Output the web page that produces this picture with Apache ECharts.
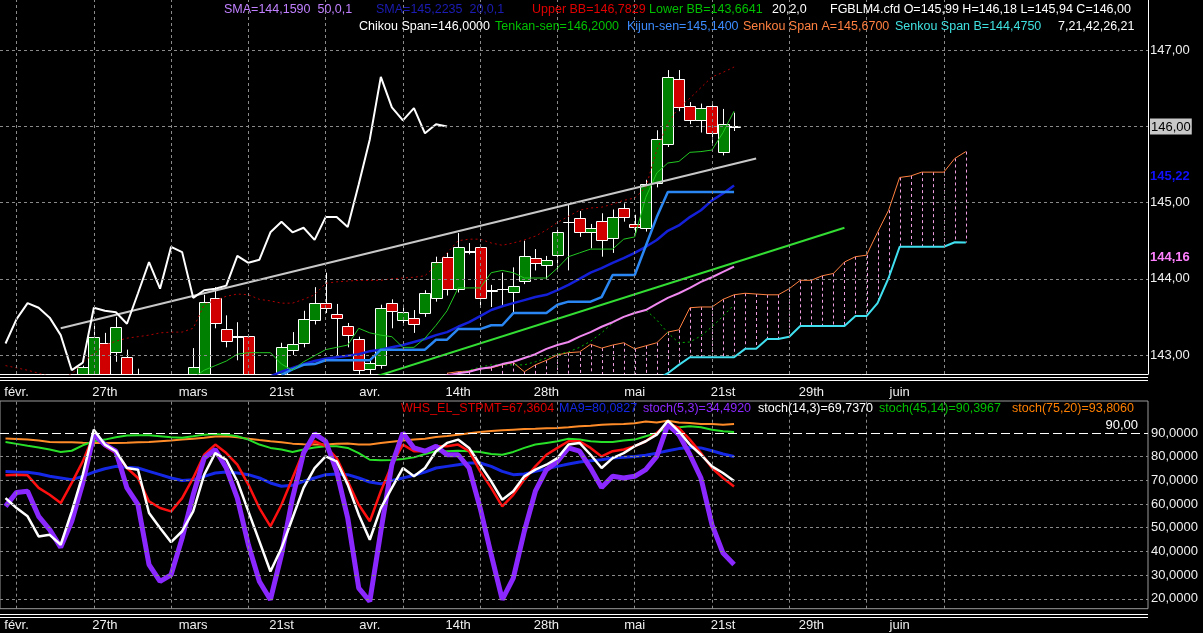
<!DOCTYPE html>
<html><head><meta charset="utf-8">
<script src="https://cdn.jsdelivr.net/npm/echarts@6/dist/echarts.min.js"></script>
<style>html,body{margin:0;padding:0;background:#000;}#c{width:1203px;height:633px;}</style>
</head><body><div id="c"></div>
<script>
// ---------- axis / tick data ----------
const CAT_COUNT = 104;          // category slots on the time axis
const IDX0 = -1;                // bar index of the first slot
const X_TICK_LABELS = ['févr.','27th','mars','21st','avr.','14th','28th','mai','21st','29th','juin'];
const X_LABEL_EVERY = 8;
const X_GRID_EVERY = 7;
const X_GRID_LAST = 84;
const PRICE_TICKS = [143,144,145,146,147];
const LAST_PRICE = 146;
const OSC_TICKS = [20,30,40,50,60,70,80,90];
const OSC_LEVEL = 90;

// ---------- candles (bar index 0..65) ----------
const OPEN = [142.50,142.62,142.60,142.46,142.44,142.36,142.58,142.70,143.16,143.04,
  142.97,142.66,142.50,142.32,142.26,142.42,142.62,142.72,143.75,143.34,
  143.25,143.25,142.62,142.44,142.55,143.07,143.16,143.46,143.68,143.54,
  143.38,143.21,142.82,142.87,143.68,143.46,143.49,143.55,143.75,144.29,
  143.87,144.36,144.42,143.84,143.86,143.83,143.97,144.27,144.18,144.31,
  144.74,144.80,144.61,144.76,144.53,144.93,144.72,144.67,145.26,145.77,
  146.62,146.27,146.08,146.27,145.66,145.99];
const CLOSE = [142.62,142.60,142.46,142.44,142.36,142.58,142.84,143.24,142.70,143.37,
  142.62,142.50,142.32,142.26,142.42,142.62,142.84,143.70,143.42,143.18,
  143.24,142.62,142.44,142.52,143.10,143.15,143.47,143.68,143.62,143.49,
  143.26,142.80,142.90,143.62,143.58,143.56,143.41,143.81,144.22,143.87,
  144.42,144.35,143.75,143.85,143.87,143.91,144.30,144.21,144.25,144.61,
  144.75,144.61,144.67,144.51,144.81,144.81,144.68,145.24,145.83,146.65,
  146.25,146.08,146.24,145.91,146.03,146.00];
const HIGH = [142.70,142.72,142.68,142.58,142.52,142.62,142.86,143.42,143.29,143.50,
  143.07,142.82,142.62,142.45,142.48,142.70,143.09,143.79,143.89,143.52,
  143.43,143.27,142.70,142.58,143.16,143.30,143.58,143.89,144.08,143.67,
  143.42,143.24,142.96,143.66,143.73,143.66,143.59,143.85,144.29,144.34,
  144.60,144.47,144.45,143.92,144.08,144.15,144.50,144.39,144.30,144.68,
  144.97,144.89,144.72,144.86,144.91,144.99,144.84,145.30,145.95,146.74,
  146.74,146.32,146.30,146.29,146.23,146.18];
const LOW = [142.42,142.50,142.40,142.38,142.30,142.32,142.52,142.64,142.62,142.91,
  142.55,142.45,142.28,142.18,142.20,142.38,142.55,142.66,143.35,143.10,
  142.93,142.55,142.38,142.30,142.48,143.00,143.10,143.40,143.55,143.00,
  143.10,142.74,142.74,142.82,143.35,143.40,143.29,143.50,143.70,143.78,
  143.82,144.32,143.63,143.63,143.63,143.55,143.93,144.11,144.00,144.09,
  144.11,144.55,144.40,144.29,144.34,144.75,144.60,144.62,145.20,145.73,
  146.20,146.03,145.92,145.78,145.62,145.94];
const CHIKOU_SHIFT = 26;

// ---------- price indicators (each with its first bar index) ----------
const UPPER_BB_START = -1;
const UPPER_BB = [142.86,142.83,142.80,142.76,142.72,142.71,142.75,142.90,143.02,143.13,
  143.18,143.22,143.24,143.26,143.29,143.30,143.30,143.35,143.66,143.72,
  143.77,143.80,143.79,143.73,143.71,143.68,143.68,143.73,143.79,143.94,
  143.96,143.97,143.98,143.98,143.98,144.00,144.01,144.02,144.04,144.18,
  144.34,144.50,144.52,144.52,144.47,144.44,144.47,144.51,144.56,144.64,
  144.74,144.82,144.90,144.93,144.94,144.98,145.03,145.06,145.20,145.69,
  146.04,146.25,146.37,146.51,146.65,146.71,146.78];
const LOWER_BB_START = 39;
const LOWER_BB = [142.70,142.76,142.80,142.84,142.87,142.87,142.87,142.87,142.91,142.96,
  143.01,143.04,143.10,143.18,143.29,143.42,143.50,143.56,143.59,143.46,
  143.29,143.16,143.17,143.25,143.37,143.51,143.66];
const SMA50_START = 38;
const SMA50 = [142.70,142.73,142.76,142.78,142.82,142.84,142.88,142.91,142.96,143.01,
  143.08,143.13,143.17,143.24,143.30,143.37,143.43,143.50,143.55,143.59,
  143.67,143.75,143.81,143.88,143.96,144.02,144.09,144.159];
const SMA20_START = 23;
const SMA20 = [142.72,142.78,142.83,142.88,142.92,142.95,142.97,142.99,143.01,143.05,
  143.07,143.10,143.13,143.17,143.21,143.26,143.30,143.37,143.43,143.51,
  143.59,143.64,143.68,143.72,143.76,143.79,143.85,143.92,144.00,144.08,
  144.14,144.21,144.27,144.34,144.42,144.51,144.63,144.70,144.81,144.90,
  145.03,145.12,145.2235];
const KIJUN_START = 24;
const KIJUN = [142.74,142.81,142.87,142.88,142.93,142.93,142.93,142.93,142.93,143.07,
  143.07,143.07,143.07,143.07,143.20,143.20,143.34,143.34,143.34,143.39,
  143.39,143.55,143.55,143.55,143.55,143.66,143.70,143.70,143.70,143.76,
  144.05,144.05,144.05,144.43,144.81,145.14,145.14,145.14,145.14,145.14,
  145.14,145.14];
const TENKAN_START = 16;
const TENKAN = [142.70,142.80,142.86,142.92,143.01,143.03,143.03,143.03,142.88,142.80,
  142.91,142.99,143.07,143.10,143.13,143.35,143.29,143.26,143.24,143.10,
  143.10,143.22,143.39,143.58,143.88,143.88,143.88,144.08,144.11,144.08,
  144.01,144.01,144.01,144.14,144.29,144.34,144.39,144.39,144.39,144.52,
  144.55,145.07,145.39,145.52,145.54,145.66,145.67,145.69,145.92,146.20];
const SPAN_START = 39;
const SPAN_A = [142.76,142.78,142.79,142.82,142.83,142.87,142.90,142.78,142.87,142.93,
  143.00,143.03,143.04,143.14,143.09,143.13,143.16,143.08,143.12,143.16,
  143.30,143.33,143.62,143.63,143.63,143.73,143.79,143.81,143.80,143.79,
  143.79,143.87,143.98,143.98,144.04,144.07,144.22,144.29,144.31,144.61,
  144.90,145.33,145.35,145.40,145.40,145.40,145.58,145.67];
const SPAN_B = [142.30,142.30,142.32,142.35,142.35,142.38,142.40,142.40,142.42,142.45,
  142.45,142.48,142.50,142.52,142.55,142.58,142.60,142.62,142.65,142.68,
  142.76,142.87,142.97,142.97,142.97,142.97,142.97,143.08,143.08,143.21,
  143.21,143.24,143.38,143.38,143.38,143.38,143.38,143.51,143.51,143.68,
  144.01,144.42,144.42,144.42,144.42,144.42,144.48,144.475];
const TREND_GREY = [[4,143.35],[67,145.58]];
const TREND_GREEN = [[30,142.60],[75,144.67]];

// ---------- oscillators (bar index -1..65) ----------
const OSC_START = -1;
const STOCH_5_3 = [59.0,64.9,65.4,54.8,49.2,41.7,52.7,68.9,89.3,85.1,
  82.3,66.8,59.7,34.4,27.3,30.1,45.6,63.9,79.4,83.0,
  75.2,62.5,42.8,27.3,19.6,38.6,62.5,81.5,89.6,86.5,
  73.8,54.1,24.5,18.9,48.5,76.6,90.0,83.7,82.3,84.4,
  80.8,80.8,75.2,58.3,38.6,19.6,28.7,48.5,65.4,74.5,
  78.0,83.7,82.3,75.2,67.0,71.7,71.0,71.7,74.5,80.1,
  93.5,89.3,80.8,71.0,51.3,39.3,34.49];
const STOCH_14_3 = [62.5,58.3,54.8,46.3,47.0,42.8,56.9,72.4,91.4,85.1,
  82.3,75.2,74.5,56.2,49.9,43.9,48.5,56.9,72.4,81.5,
  78.7,69.6,56.9,44.2,31.5,41.4,54.1,66.8,75.2,80.1,
  78.0,68.2,55.5,44.9,58.3,66.8,75.2,71.7,75.2,82.3,
  85.8,87.2,83.7,76.6,69.6,61.8,65.4,71.7,74.5,76.6,
  79.4,85.1,85.8,80.8,75.2,79.4,81.5,84.4,86.5,89.3,
  95.2,90.7,85.1,80.8,75.9,73.1,69.74];
const WHS_STPMT = [72.1,72.4,72.1,66.8,63.9,60.4,68.9,78.0,89.3,84.4,
  81.5,75.2,71.0,61.1,58.3,56.9,62.5,71.0,80.8,85.1,
  81.5,76.6,68.2,58.3,50.6,59.7,71.0,82.3,86.5,84.4,
  79.4,69.6,59.7,52.7,65.4,76.6,85.1,82.3,82.3,84.4,
  84.4,85.1,82.3,73.8,66.8,59.0,63.9,70.3,75.9,80.8,
  83.7,86.5,86.5,83.7,80.1,82.3,83.0,84.4,86.5,90.0,
  94.2,92.1,87.2,81.5,75.2,71.0,67.36];
const MA9 = [73.7,73.5,73.4,72.8,71.7,71.0,70.3,71.7,73.5,74.9,
  75.9,75.5,75.2,73.8,72.4,71.0,69.9,70.3,71.7,73.1,
  73.5,73.1,72.4,71.0,68.9,67.5,67.9,69.6,71.0,72.4,
  72.7,72.4,71.0,69.3,68.5,69.9,71.0,72.1,73.5,75.2,
  75.9,76.6,77.3,77.3,75.9,73.8,72.4,72.7,73.8,74.9,
  75.9,76.9,77.7,78.3,78.7,79.4,79.7,80.1,80.6,81.5,
  82.5,83.4,83.9,83.7,82.5,81.1,80.08];
const STOCH_45_14 = [86.2,85.4,84.6,83.9,83.0,82.0,82.5,84.8,86.5,87.2,
  88.2,88.9,89.0,89.0,88.6,88.2,88.0,88.6,89.3,89.6,
  89.3,88.6,87.2,85.1,83.7,83.0,82.0,83.0,83.9,84.4,
  84.4,83.7,81.5,78.7,78.5,78.6,79.0,79.7,81.1,82.3,
  82.3,82.5,82.3,82.0,81.1,80.8,82.0,83.7,85.1,85.8,
  86.5,87.6,87.2,86.5,86.2,86.2,86.8,87.2,88.6,90.0,
  92.4,92.4,92.8,92.4,91.4,90.7,90.40];
const STOCH_75_20 = [87.7,87.5,87.2,86.8,86.2,86.1,86.1,85.9,85.8,85.8,
  85.8,85.9,86.1,86.2,86.5,86.8,87.2,87.6,88.0,88.5,
  88.6,88.2,87.6,87.0,86.5,86.1,85.5,85.2,85.1,85.1,
  85.4,85.6,85.1,85.1,85.8,86.3,86.8,87.2,87.6,88.3,
  88.7,89.2,89.9,90.4,90.8,91.1,91.4,91.7,91.8,92.0,
  92.1,92.4,92.8,93.1,93.5,93.7,93.8,94.1,94.8,94.4,
  95.2,94.4,94.2,93.8,93.8,93.5,93.81];

// ---------- legend texts ----------
const HEADER_1 = [['SMA=144,1590  50,0,1','#c080ff'],['SMA=145,2235  20,0,1','#1c1cb4'],['Upper BB=146,7829','#e00000'],
  ['Lower BB=143,6641','#00c000'],['20,2,0','#ffffff'],['FGBLM4.cfd O=145,99 H=146,18 L=145,94 C=146,00','#ffffff']];
const HEADER_2 = [['Chikou Span=146,0000','#ffffff'],['Tenkan-sen=146,2000','#00c000'],['Kijun-sen=145,1400','#3c8cff'],
  ['Senkou Span A=145,6700','#ff8040'],['Senkou Span B=144,4750','#40e0e0'],['7,21,42,26,21','#ffffff']];
const OSC_LEGEND = [['WHS_EL_STPMT=67,3604','#e00000'],['MA9=80,0827','#1428e6'],['stoch(5,3)=34,4920','#8c28ff'],
  ['stoch(14,3)=69,7370','#ffffff'],['stoch(45,14)=90,3967','#00c000'],['stoch(75,20)=93,8060','#ff8000']];

// ---------- build ----------
const FONT = '"Liberation Sans", Arial, sans-serif';
const fmt = (v, d) => v.toFixed(d).replace('.', ',');
const slot = i => i - IDX0;
function fillSlots(start, values) {
  const a = new Array(CAT_COUNT).fill(null);
  values.forEach((v, j) => { const k = slot(start + j); if (k >= 0 && k < CAT_COUNT) a[k] = v; });
  return a;
}
const cats = Array.from({length: CAT_COUNT}, (_, k) => String(k + IDX0));
const candleData = OPEN.map((o, i) => [slot(i), o, CLOSE[i], LOW[i], HIGH[i]]);
const chikou = fillSlots(-CHIKOU_SHIFT, CLOSE);
const hatch = SPAN_A.map((a, j) => [slot(SPAN_START + j), a, SPAN_B[j]]);

const vGrid = [];
for (let i = 0; i <= X_GRID_LAST; i += X_GRID_EVERY) vGrid.push({xAxis: slot(i)});

function xAxisCfg(gridIndex, margin, showLine) {
  return {
    type: 'category', gridIndex, data: cats, boundaryGap: true,
    axisLine: {show: showLine, lineStyle: {color: '#ffffff', width: 1}},
    axisTick: {show: false}, splitLine: {show: false},
    axisLabel: {
      color: '#f0f0f0', fontSize: 13, fontFamily: FONT, margin,
      interval: (k) => { const i = k + IDX0; return i >= 0 && i % X_LABEL_EVERY === 0 && i / X_LABEL_EVERY < X_TICK_LABELS.length; },
      formatter: (v, k) => X_TICK_LABELS[(k + IDX0) / X_LABEL_EVERY] || ''
    }
  };
}
const gridLineStyle = {color: '#8a8a8a', width: 1, type: [3, 3]};
const lineBase = {type: 'line', symbol: 'none', showSymbol: false, silent: true, clip: true, connectNulls: false, z: 3};

function renderCandle(params, api) {
  const cs = params.coordSys;
  const top = cs.y, bot = cs.y + cs.height;
  const cl = y => Math.max(top, Math.min(bot, y));
  const k = api.value(0), o = api.value(1), c = api.value(2), lo = api.value(3), hi = api.value(4);
  const pO = api.coord([k, o]);
  const yC = api.coord([k, c])[1], yL = api.coord([k, lo])[1], yH = api.coord([k, hi])[1];
  if (yH >= bot || yL <= top) return null;
  const band = api.size([1, 0])[0];
  const xc = Math.round(pO[0]) + 0.5;
  const children = [{type: 'line', shape: {x1: xc, y1: cl(yH), x2: xc, y2: cl(yL)}, style: {stroke: '#ffffff', lineWidth: 1}}];
  const bTop = Math.min(pO[1], yC), bBot = Math.max(pO[1], yC);
  if (bTop < bot) {
    const y1 = Math.round(cl(bTop)) + 0.5, y2 = Math.round(cl(bBot)) + 0.5;
    const x0 = Math.round(pO[0] - band / 2) + 0.5;
    children.push({type: 'rect', shape: {x: x0, y: y1, width: Math.round(band), height: Math.max(0, y2 - y1)},
      style: {fill: c > o ? '#008000' : (c < o ? '#d00000' : '#ffffff'), stroke: '#ffffff', lineWidth: 1}});
  }
  return {type: 'group', children};
}

const option = {
  backgroundColor: '#000000',
  animation: false,
  textStyle: {fontFamily: FONT},
  grid: [
    {left: 0, top: 0, width: 1148, height: 374, outerBoundsMode: 'none'},
    {left: 0, top: 401, width: 1148, height: 207.7, show: true, borderColor: '#9a9a9a', borderWidth: 1, backgroundColor: 'transparent', outerBoundsMode: 'none'}
  ],
  xAxis: [xAxisCfg(0, 12, true), xAxisCfg(1, 10, false)],
  yAxis: [
    {type: 'value', gridIndex: 0, position: 'right', min: 142.75, max: 147.66,
      splitLine: {show: false}, axisTick: {show: false},
      axisLine: {show: true, lineStyle: {color: '#ffffff'}},
      axisLabel: {customValues: PRICE_TICKS, margin: 2, color: '#f0f0f0', fontSize: 13, fontFamily: FONT,
        formatter: v => v === LAST_PRICE ? '{box|' + fmt(v, 2) + '}' : fmt(v, 2),
        rich: {box: {backgroundColor: '#c8c8c8', color: '#000000', fontSize: 13, fontFamily: FONT, padding: [2, 1, 1, 1]}}}},
    {type: 'value', gridIndex: 1, position: 'right', min: 15.8, max: 103.5,
      splitLine: {show: false}, axisTick: {show: false}, axisLine: {show: false},
      axisLabel: {customValues: OSC_TICKS, margin: 3, color: '#f0f0f0', fontSize: 13, fontFamily: FONT,
        formatter: v => fmt(v, 4)}}
  ],
  series: [
    // grid lines of the price panel
    {type: 'line', xAxisIndex: 0, yAxisIndex: 0, data: new Array(CAT_COUNT).fill(null), z: 1, silent: true,
      markLine: {silent: true, symbol: ['none', 'none'], label: {show: false}, lineStyle: gridLineStyle, animation: false,
        data: vGrid.concat(PRICE_TICKS.map(v => ({yAxis: v})))}},
    // grid lines of the oscillator panel
    {type: 'line', xAxisIndex: 1, yAxisIndex: 1, data: new Array(CAT_COUNT).fill(null), z: 1, silent: true,
      markLine: {silent: true, symbol: ['none', 'none'], label: {show: false}, lineStyle: gridLineStyle, animation: false,
        data: vGrid.concat(OSC_TICKS.filter(v => v !== OSC_LEVEL).map(v => ({yAxis: v}))).concat([
          {yAxis: OSC_LEVEL, lineStyle: {color: '#ffffff', width: 1, type: [9, 4]},
            label: {show: true, position: 'insideEndTop', formatter: fmt(OSC_LEVEL, 2), color: '#ffffff', fontSize: 13, fontFamily: FONT, distance: [10, 1]}}])}},
    // cloud hatch
    {type: 'custom', xAxisIndex: 0, yAxisIndex: 0, data: hatch, clip: true, silent: true, z: 2,
      encode: {x: 0, y: [1, 2]},
      renderItem: (params, api) => {
        const cs = params.coordSys;
        const k = api.value(0);
        const p1 = api.coord([k, api.value(1)]);
        const p2 = api.coord([k, api.value(2)]);
        const cl = y => Math.max(cs.y, Math.min(cs.y + cs.height, y));
        const x = Math.round(p1[0]) + 0.5;
        return {type: 'line', shape: {x1: x, y1: cl(p1[1]), x2: x, y2: cl(p2[1])},
          style: {stroke: '#f0a0e0', lineWidth: 1, lineDash: [3, 3]}};
      }},
    // candles
    {type: 'custom', xAxisIndex: 0, yAxisIndex: 0, data: candleData, clip: true, silent: true, z: 2,
      encode: {x: 0, y: [1, 2, 3, 4]}, renderItem: renderCandle},
    Object.assign({}, lineBase, {name: 'Senkou Span A', xAxisIndex: 0, yAxisIndex: 0, data: fillSlots(SPAN_START, SPAN_A), lineStyle: {color: '#ff8040', width: 1}}),
    Object.assign({}, lineBase, {name: 'Senkou Span B', xAxisIndex: 0, yAxisIndex: 0, data: fillSlots(SPAN_START, SPAN_B), lineStyle: {color: '#40e0f0', width: 2}}),
    Object.assign({}, lineBase, {name: 'Upper BB', xAxisIndex: 0, yAxisIndex: 0, data: fillSlots(UPPER_BB_START, UPPER_BB), lineStyle: {color: '#b00000', width: 1, type: [2, 3]}}),
    Object.assign({}, lineBase, {name: 'Lower BB', xAxisIndex: 0, yAxisIndex: 0, data: fillSlots(LOWER_BB_START, LOWER_BB), lineStyle: {color: '#00b000', width: 1, type: [2, 3]}}),
    Object.assign({}, lineBase, {name: 'SMA50', xAxisIndex: 0, yAxisIndex: 0, data: fillSlots(SMA50_START, SMA50), lineStyle: {color: '#f088f0', width: 2}}),
    Object.assign({}, lineBase, {name: 'SMA20', xAxisIndex: 0, yAxisIndex: 0, data: fillSlots(SMA20_START, SMA20), lineStyle: {color: '#1420d8', width: 2.5}}),
    Object.assign({}, lineBase, {name: 'Kijun', xAxisIndex: 0, yAxisIndex: 0, data: fillSlots(KIJUN_START, KIJUN), lineStyle: {color: '#2a86f2', width: 2.5}}),
    Object.assign({}, lineBase, {name: 'Tenkan', xAxisIndex: 0, yAxisIndex: 0, data: fillSlots(TENKAN_START, TENKAN), lineStyle: {color: '#22c822', width: 1}}),
    Object.assign({}, lineBase, {name: 'Trend green', xAxisIndex: 0, yAxisIndex: 0, data: TREND_GREEN.map(p => [slot(p[0]), p[1]]), lineStyle: {color: '#33dd33', width: 2}}),
    Object.assign({}, lineBase, {name: 'Trend grey', xAxisIndex: 0, yAxisIndex: 0, data: TREND_GREY.map(p => [slot(p[0]), p[1]]), lineStyle: {color: '#c8c8c8', width: 2}}),
    Object.assign({}, lineBase, {name: 'Chikou', xAxisIndex: 0, yAxisIndex: 0, data: chikou, lineStyle: {color: '#ffffff', width: 2}, z: 4}),
    // oscillators
    Object.assign({}, lineBase, {xAxisIndex: 1, yAxisIndex: 1, data: fillSlots(OSC_START, STOCH_75_20), lineStyle: {color: '#ff8c28', width: 2}}),
    Object.assign({}, lineBase, {xAxisIndex: 1, yAxisIndex: 1, data: fillSlots(OSC_START, STOCH_45_14), lineStyle: {color: '#28e028', width: 2}}),
    Object.assign({}, lineBase, {xAxisIndex: 1, yAxisIndex: 1, data: fillSlots(OSC_START, MA9), lineStyle: {color: '#1428e6', width: 3}}),
    Object.assign({}, lineBase, {xAxisIndex: 1, yAxisIndex: 1, data: fillSlots(OSC_START, WHS_STPMT), lineStyle: {color: '#ff1010', width: 2.5}}),
    Object.assign({}, lineBase, {xAxisIndex: 1, yAxisIndex: 1, data: fillSlots(OSC_START, STOCH_5_3), lineStyle: {color: '#8a28ff', width: 5}}),
    Object.assign({}, lineBase, {xAxisIndex: 1, yAxisIndex: 1, data: fillSlots(OSC_START, STOCH_14_3), lineStyle: {color: '#ffffff', width: 2.5}, z: 4})
  ]
};

const chart = echarts.init(document.getElementById('c'), null, {renderer: 'canvas'});
chart.setOption(option);

// ---------- texts and panel separators ----------
const graphics = [];
const LEGEND_FONT = '12.5px ' + FONT;
function addRow(items, xs, y) {
  items.forEach((it, j) => graphics.push({type: 'text', x: xs[j], y, silent: true, z: 10,
    style: {text: it[0], fill: it[1], font: LEGEND_FONT, verticalAlign: 'middle', align: 'left'}}));
}
addRow(HEADER_1, [224, 376, 532, 649, 772, 830], 10);
addRow(HEADER_2, [359, 495, 627, 743, 895, 1058], 27);
addRow(OSC_LEGEND, [401, 559, 643, 758, 879, 1012], 409);
[377.5, 380.5, 614.5, 617.5].forEach(y => graphics.push({type: 'line', silent: true, z: 10,
  shape: {x1: 0, y1: y, x2: 1148, y2: y}, style: {stroke: '#ffffff', lineWidth: 1}}));
// current indicator values on the price scale
[[SMA20[SMA20.length - 1], '#1010ff'], [SMA50[SMA50.length - 1], '#ff80ff']].forEach(([v, c]) => {
  const y = chart.convertToPixel({yAxisIndex: 0}, v);
  graphics.push({type: 'text', x: 1150, y: y - 9, silent: true, z: 10,
    style: {text: fmt(v, 2), fill: c, font: 'bold 13px ' + FONT, verticalAlign: 'middle', align: 'left'}});
});
chart.setOption({graphic: graphics});
</script></body></html>
